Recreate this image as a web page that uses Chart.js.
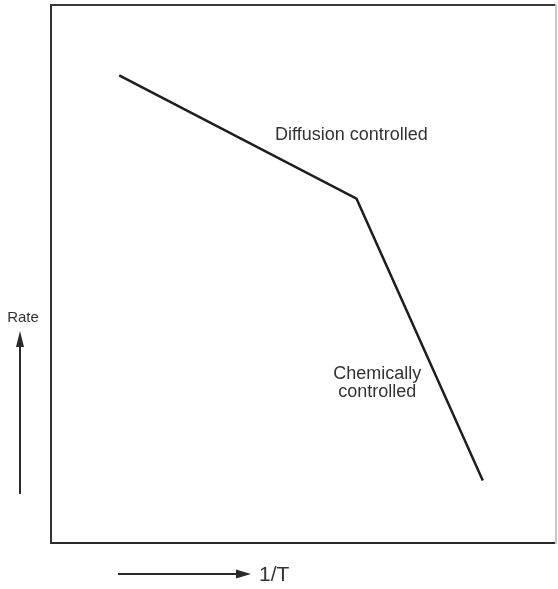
<!DOCTYPE html>
<html>
<head>
<meta charset="utf-8">
<script src="https://cdn.jsdelivr.net/npm/chart.js@4/dist/chart.umd.min.js"></script>
<style>
  html, body { margin: 0; padding: 0; background: #fff; }
  #wrap { width: 558px; height: 589px; }
</style>
</head>
<body>
<div id="wrap"><canvas id="rateChart"></canvas></div>
<script>
// ===== Data (arbitrary units, x = 1/T, y = rate) =====
const invT = [13.5, 60.5, 85.5];
const rate = [86.9, 64.0, 11.6];

// region labels, placed in data units
const labelText = [["Diffusion controlled"], ["Chemically", "controlled"]];
const labelX = [59.5, 64.6];
const labelY = [75.8, 31.4];

const axisLabelX = "1/T";
const axisLabelY = "Rate";

// ===== Annotations plugin =====
const annotate = {
  id: "annotate",
  afterDatasetsDraw(chart) {
    const { ctx, chartArea, scales } = chart;
    ctx.save();
    ctx.fillStyle = "#333";
    ctx.textAlign = "center";
    ctx.textBaseline = "middle";
    ctx.font = "18px 'Liberation Sans', Arial, sans-serif";
    labelText.forEach((lines, i) => {
      const px = scales.x.getPixelForValue(labelX[i]);
      const py = scales.y.getPixelForValue(labelY[i]);
      lines.forEach((t, j) => ctx.fillText(t, px, py + j * 18));
    });

    // "Rate" with upward arrow, left of the frame
    const ax = chartArea.left - 31;
    ctx.font = "15px 'Liberation Sans', Arial, sans-serif";
    ctx.fillText(axisLabelY, ax + 3, 318);
    ctx.strokeStyle = "#2a2a2a";
    ctx.fillStyle = "#2a2a2a";
    ctx.lineWidth = 2;
    ctx.beginPath();
    ctx.moveTo(ax, 494);
    ctx.lineTo(ax, 342);
    ctx.stroke();
    ctx.beginPath();
    ctx.moveTo(ax, 331);
    ctx.lineTo(ax - 4, 347);
    ctx.lineTo(ax + 4, 347);
    ctx.closePath();
    ctx.fill();

    // "1/T" with right arrow, under the frame
    const ay = chartArea.bottom + 31;
    ctx.beginPath();
    ctx.moveTo(118, ay);
    ctx.lineTo(238, ay);
    ctx.stroke();
    ctx.beginPath();
    ctx.moveTo(251, ay);
    ctx.lineTo(236, ay - 4.5);
    ctx.lineTo(236, ay + 4.5);
    ctx.closePath();
    ctx.fill();
    ctx.textAlign = "left";
    ctx.fillStyle = "#333";
    ctx.font = "21px 'Liberation Sans', Arial, sans-serif";
    ctx.fillText(axisLabelX, 259, ay + 1);
    ctx.restore();
  }
};

// ===== Chart =====
const frameAxis = (position, color) => ({
  type: "linear",
  position,
  min: 0,
  max: 100,
  ticks: { display: false },
  grid: { display: false, drawTicks: false },
  border: { display: true, color, width: 2 }
});

new Chart(document.getElementById("rateChart"), {
  type: "scatter",
  data: {
    datasets: [{
      data: invT.map((x, i) => ({ x, y: rate[i] })),
      showLine: true,
      borderColor: "#1e1e1e",
      borderWidth: 2.5,
      pointRadius: 0,
      tension: 0
    }]
  },
  options: {
    responsive: true,
    maintainAspectRatio: false,
    animation: false,
    layout: { padding: { left: 51, right: 2, top: 5, bottom: 46 } },
    plugins: { legend: { display: false }, tooltip: { enabled: false } },
    scales: {
      x: frameAxis("bottom", "#2a2a2a"),
      y: frameAxis("left", "#333"),
      x2: frameAxis("top", "#3a3a3a"),
      y2: frameAxis("right", "#c8c8c8")
    }
  },
  plugins: [annotate]
});
</script>
</body>
</html>
